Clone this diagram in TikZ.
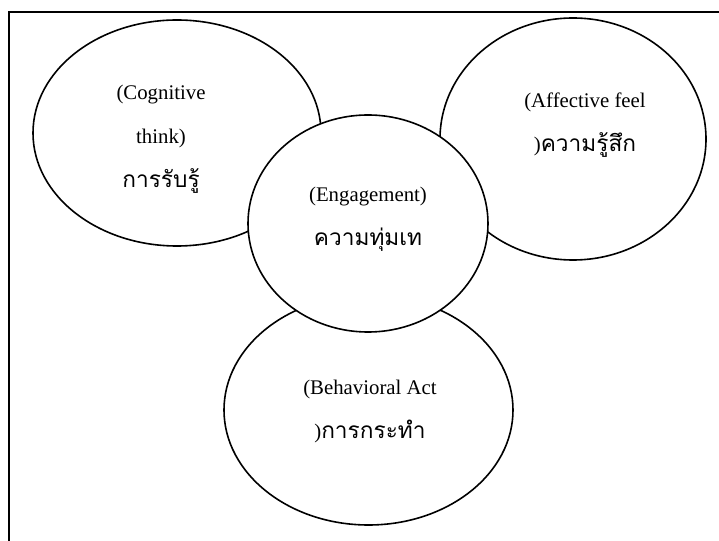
\documentclass[tikz,border=0pt]{standalone}
\usepackage{fontspec}
\setmainfont{Liberation Serif}
\newfontfamily\thaifont[Script=Thai]{Loma}
\usepackage{tikz}
\usetikzlibrary{shapes.geometric}

\newcommand{\thtext}[1]{{\thaifont\fontsize{17}{33}\selectfont #1}}

\begin{document}
\begin{tikzpicture}[x=0.75pt,y=-0.75pt,
    bubble/.style={draw, ellipse, line width=1.2pt, inner sep=0pt, fill=white},
    caption/.style={align=center, inner sep=0pt, font=\fontsize{15.6}{33}\selectfont}]
      \useasboundingbox (0,0) rectangle (719,541);
      \draw[line width=1.5pt] (8.5,541) -- (8.5,12) -- (719,12);
      % the four parts
      \node[bubble, minimum width=216pt, minimum height=169.5pt] (cog) at (177,133) {};
      \node[bubble, minimum width=199.5pt, minimum height=181.5pt] (aff) at (573,139) {};
      \node[bubble, minimum width=216.75pt, minimum height=172.5pt] (beh) at (368.5,410) {};
      \node[bubble, minimum width=180pt, minimum height=162.75pt] (eng) at (368,223.5) {};
      % texts
      \node[caption] (cogtext) at (161,139) {(Cognitive\\ think)\\ \thtext{การรับรู้}};
      \node[caption] (afftext) at (585,125) {(Affective feel\\ )\thtext{ความรู้สึก}};
      \node[caption] (engtext) at (368,219) {(Engagement)\\ \thtext{ความทุ่มเท}};
      \node[caption] (behtext) at (370,411.5) {(Behavioral Act\\ )\thtext{การกระทำ}};
    \end{tikzpicture}
\end{document}
